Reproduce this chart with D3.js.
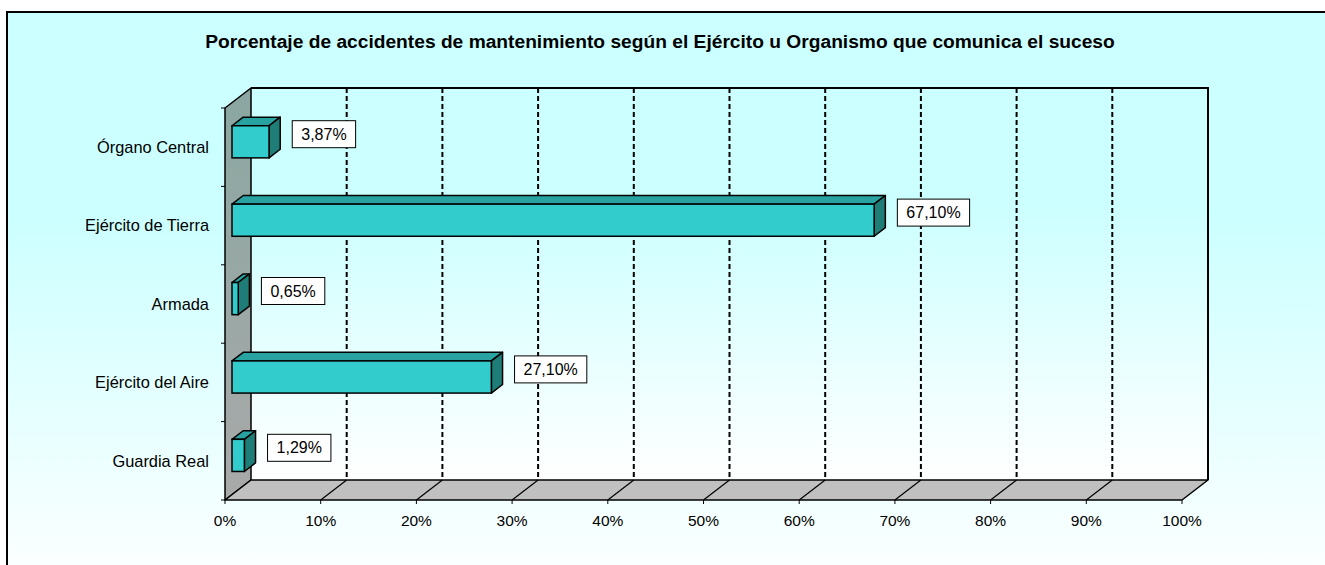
<!DOCTYPE html>
<html>
<head>
<meta charset="utf-8">
<script src="https://cdn.jsdelivr.net/npm/d3@7"></script>
<style>
  html, body { margin: 0; padding: 0; background: #fff; }
  svg { display: block; font-family: "Liberation Sans", Arial, sans-serif; }
</style>
</head>
<body>
<svg id="chart" width="1325" height="565"></svg>
<script>
// data
const categories = ['Órgano Central', 'Ejército de Tierra', 'Armada', 'Ejército del Aire', 'Guardia Real'];
const values = [3.87, 67.10, 0.65, 27.10, 1.29];
const xTicks = [0, 10, 20, 30, 40, 50, 60, 70, 80, 90, 100];
const title = 'Porcentaje de accidentes de mantenimiento según el Ejército u Organismo que comunica el suceso';

const width = 1325, height = 565;
const svg = d3.select('#chart');
const defs = svg.append('defs');

// gradients
function vGrad(id, stops) {
  const g = defs.append('linearGradient').attr('id', id)
    .attr('x1', 0).attr('y1', 0).attr('x2', 0).attr('y2', 1);
  stops.forEach(s => g.append('stop').attr('offset', s[0]).attr('stop-color', s[1]));
}
vGrad('bgGrad', [[0, '#ccffff'], [0.35, '#ccffff'], [1, '#ffffff']]);
vGrad('wallGrad', [[0, '#ccffff'], [0.3, '#ccffff'], [1, '#ffffff']]);
vGrad('sideGrad', [[0, '#8aa7a1'], [1, '#a9a9a9']]);

// chart area (border only visible top/left)
svg.append('rect')
  .attr('x', 7).attr('y', 12)
  .attr('width', width + 20).attr('height', height + 20)
  .attr('fill', 'url(#bgGrad)')
  .attr('stroke', '#000').attr('stroke-width', 2);

// title
svg.append('text')
  .attr('x', 660).attr('y', 48)
  .attr('text-anchor', 'middle')
  .attr('font-size', 19.2).attr('font-weight', 'bold')
  .text(title);

// 3d geometry
const depthX = 26, depthY = -20;
const x = d3.scaleLinear().domain([0, 100]).range([225, 1182]);
const y = d3.scaleBand().domain(categories).range([108, 500]);
const top0 = y.range()[0], bot0 = y.range()[1];

const poly = pts => pts.map(p => p.join(',')).join(' ');

// back wall
svg.append('rect')
  .attr('x', x(0) + depthX).attr('y', top0 + depthY)
  .attr('width', x(100) - x(0)).attr('height', bot0 - top0)
  .attr('fill', 'url(#wallGrad)');

// left side wall
svg.append('polygon')
  .attr('points', poly([[x(0), top0], [x(0) + depthX, top0 + depthY], [x(0) + depthX, bot0 + depthY], [x(0), bot0]]))
  .attr('fill', 'url(#sideGrad)')
  .attr('stroke', '#000').attr('stroke-width', 1.5).attr('stroke-linejoin', 'round');

// floor
svg.append('polygon')
  .attr('points', poly([[x(0), bot0], [x(100), bot0], [x(100) + depthX, bot0 + depthY], [x(0) + depthX, bot0 + depthY]]))
  .attr('fill', '#c0c0c0')
  .attr('stroke', '#000').attr('stroke-width', 1.5).attr('stroke-linejoin', 'round');

// gridlines: dashed on the back wall, solid on the floor
const inner = xTicks.filter(t => t > 0 && t < 100);
svg.selectAll('line.grid')
  .data(inner)
  .join('line')
  .attr('class', 'grid')
  .attr('x1', d => x(d) + depthX).attr('x2', d => x(d) + depthX)
  .attr('y1', top0 + depthY).attr('y2', bot0 + depthY)
  .attr('stroke', '#000').attr('stroke-width', 2)
  .attr('stroke-dasharray', '5,3');

svg.selectAll('line.floorgrid')
  .data(inner)
  .join('line')
  .attr('class', 'floorgrid')
  .attr('x1', d => x(d)).attr('y1', bot0)
  .attr('x2', d => x(d) + depthX).attr('y2', bot0 + depthY)
  .attr('stroke', '#000').attr('stroke-width', 1.2);

// back wall top and right edges
svg.append('polyline')
  .attr('points', poly([[x(0) + depthX, top0 + depthY], [x(100) + depthX, top0 + depthY], [x(100) + depthX, bot0 + depthY]]))
  .attr('fill', 'none')
  .attr('stroke', '#000').attr('stroke-width', 2);

// axis ticks
svg.selectAll('line.xtick')
  .data(xTicks)
  .join('line')
  .attr('class', 'xtick')
  .attr('x1', d => x(d)).attr('x2', d => x(d))
  .attr('y1', bot0).attr('y2', bot0 + 4)
  .attr('stroke', '#000').attr('stroke-width', 1);

svg.selectAll('text.xlabel')
  .data(xTicks)
  .join('text')
  .attr('class', 'xlabel')
  .attr('x', d => x(d)).attr('y', 526)
  .attr('text-anchor', 'middle')
  .attr('font-size', 15.5)
  .text(d => d + '%');

const yBounds = categories.map(c => y(c)).concat([bot0]);
svg.selectAll('line.ytick')
  .data(yBounds)
  .join('line')
  .attr('class', 'ytick')
  .attr('x1', x(0) - 4).attr('x2', x(0))
  .attr('y1', d => d).attr('y2', d => d)
  .attr('stroke', '#000').attr('stroke-width', 1);

svg.selectAll('text.ylabel')
  .data(categories)
  .join('text')
  .attr('class', 'ylabel')
  .attr('x', 209).attr('y', d => y(d) + y.bandwidth() / 2)
  .attr('dy', '0.35em')
  .attr('text-anchor', 'end')
  .attr('font-size', 16.4)
  .text(d => d);

// bars
const f0 = 0.27, f1 = 0.70;
const barH = y.bandwidth() * 0.41;
const bdx = (f1 - f0) * depthX, bdy = (f1 - f0) * depthY;
const data = categories.map((c, i) => ({ cat: c, v: values[i] }));

const bars = svg.selectAll('g.bar')
  .data(data)
  .join('g')
  .attr('class', 'bar');

function geom(d) {
  const x1 = x(0) + f0 * depthX;
  const x2 = x(d.v) + f0 * depthX;
  const y1 = y(d.cat) + y.bandwidth() / 2 - barH / 2 + f0 * depthY;
  return { x1, x2, y1, y2: y1 + barH };
}

bars.append('polygon')
  .attr('points', d => { const g = geom(d); return poly([[g.x1, g.y1], [g.x2, g.y1], [g.x2 + bdx, g.y1 + bdy], [g.x1 + bdx, g.y1 + bdy]]); })
  .attr('fill', '#29a3a1').attr('stroke', '#000').attr('stroke-width', 1.5).attr('stroke-linejoin', 'round');

bars.append('polygon')
  .attr('points', d => { const g = geom(d); return poly([[g.x2, g.y1], [g.x2 + bdx, g.y1 + bdy], [g.x2 + bdx, g.y2 + bdy], [g.x2, g.y2]]); })
  .attr('fill', '#1f7d78').attr('stroke', '#000').attr('stroke-width', 1.5).attr('stroke-linejoin', 'round');

bars.append('rect')
  .attr('x', d => geom(d).x1).attr('y', d => geom(d).y1)
  .attr('width', d => geom(d).x2 - geom(d).x1).attr('height', barH)
  .attr('fill', '#33cccc').attr('stroke', '#000').attr('stroke-width', 1.5);

// value labels in white boxes
const fmt = v => v.toFixed(2).replace('.', ',') + '%';
const labels = svg.selectAll('g.vlabel')
  .data(data)
  .join('g')
  .attr('class', 'vlabel');

labels.each(function(d) {
  const g = d3.select(this);
  const bx = x(d.v) + f1 * depthX + 12;
  const cy = y(d.cat) + y.bandwidth() / 2 - 13;
  const box = g.append('rect');
  const t = g.append('text')
    .attr('x', bx + 9).attr('y', cy)
    .attr('dy', '0.35em')
    .attr('font-size', 16)
    .text(fmt(d.v));
  const w = t.node().getComputedTextLength() + 18;
  box.attr('x', bx).attr('y', cy - 13.5)
    .attr('width', w).attr('height', 27)
    .attr('fill', '#fff').attr('stroke', '#000').attr('stroke-width', 1);
});
</script>
</body>
</html>
